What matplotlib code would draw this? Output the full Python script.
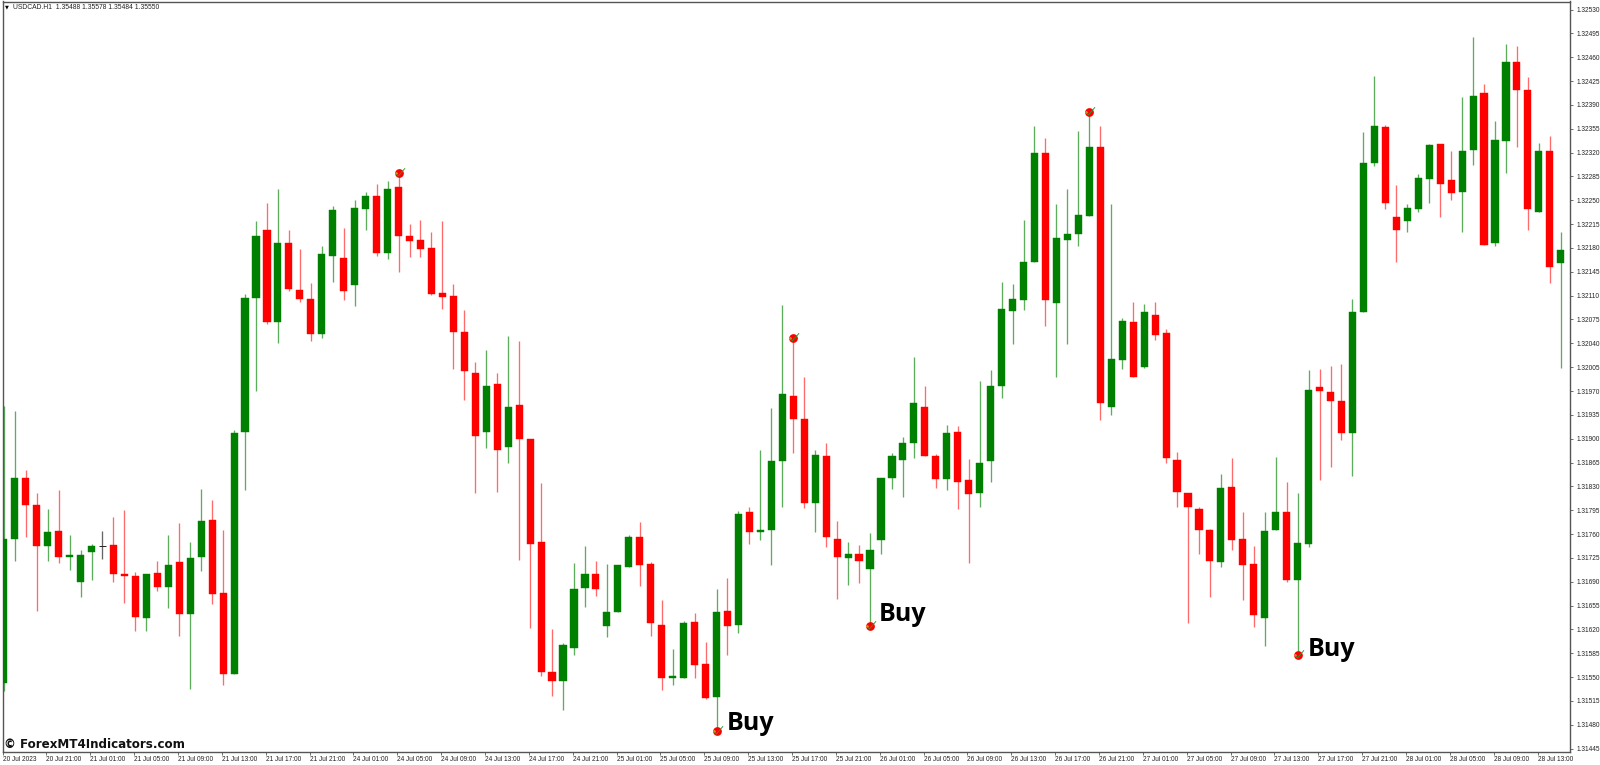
import numpy as np
import matplotlib
matplotlib.use('Agg')
import matplotlib.pyplot as plt
from matplotlib.path import Path


# ------------------------------------------------------- #
# Data, USDCAD H1, prices in points (1.31542 = 131542)

opens = [131542, 131753, 131843, 131802, 131742, 131765, 131727, 131689, 131733, 131744,
         131744, 131702, 131699, 131637, 131703, 131682, 131719, 131643, 131727, 131781,
         131673, 131554, 131910, 132107, 132206, 132072, 132187, 132119, 132105, 132054,
         132168, 132165, 132126, 132237, 132257, 132173, 132269, 132198, 132192, 132180,
         132114, 132109, 132057, 131996, 131910, 131981, 131888, 131950, 131899, 131749,
         131557, 131544, 131593, 131681, 131701, 131625, 131646, 131712, 131756, 131716,
         131627, 131549, 131549, 131631, 131569, 131521, 131647, 131626, 131792, 131763,
         131766, 131867, 131963, 131929, 131806, 131875, 131753, 131725, 131731, 131708,
         131751, 131843, 131868, 131893, 131947, 131874, 131841, 131910, 131839, 131820,
         131867, 131977, 132088, 132104, 132159, 132319, 132099, 132192, 132200, 132227,
         132328, 131947, 132016, 132072, 132005, 132082, 132055, 131869, 131821, 131797,
         131766, 131719, 131829, 131753, 131716, 131637, 131766, 131793, 131693, 131745,
         131976, 131969, 131956, 131909, 132086, 132304, 132357, 132225, 132220, 132237,
         132281, 132333, 132280, 132262, 132324, 132408, 132188, 132337, 132453, 132412,
         132233, 132322, 132158]
highs = [131948, 131941, 131854, 131820, 131797, 131825, 131759, 131736, 131746, 131764,
         131785, 131796, 131705, 131702, 131720, 131759, 131776, 131748, 131826, 131810,
         131766, 131913, 132112, 132220, 132246, 132266, 132207, 132178, 132128, 132183,
         132242, 132210, 132250, 132262, 132274, 132278, 132290, 132215, 132221, 132204,
         132220, 132127, 132089, 132012, 132030, 131996, 132051, 132043, 131899, 131835,
         131620, 131600, 131717, 131743, 131721, 131716, 131714, 131758, 131777, 131719,
         131663, 131591, 131632, 131644, 131602, 131680, 131695, 131794, 131799, 131883,
         131945, 132096, 132048, 131990, 131884, 131893, 131779, 131749, 131744, 131762,
         131843, 131879, 131903, 132020, 131977, 131878, 131920, 131919, 131870, 131985,
         132001, 132130, 132127, 132221, 132359, 132341, 132244, 132267, 132351, 132379,
         132359, 132244, 132077, 132101, 132098, 132101, 132061, 131880, 131821, 131799,
         131767, 131848, 131871, 131793, 131743, 131793, 131873, 131837, 131820, 132001,
         132002, 132007, 132009, 132105, 132350, 132433, 132360, 132272, 132244, 132289,
         132332, 132333, 132323, 132402, 132489, 132421, 132366, 132479, 132476, 132431,
         132334, 132345, 132204]
lows = [131530, 131720, 131756, 131647, 131720, 131717, 131707, 131667, 131693, 131724,
        131690, 131659, 131618, 131618, 131677, 131651, 131611, 131532, 131706, 131658,
        131538, 131554, 131825, 131970, 132068, 132041, 132117, 132101, 132044, 132048,
        132130, 132104, 132095, 132206, 132168, 132164, 132145, 132166, 132167, 132111,
        132090, 132002, 131957, 131821, 131886, 131822, 131865, 131722, 131622, 131551,
        131523, 131501, 131582, 131653, 131669, 131609, 131646, 131711, 131684, 131611,
        131531, 131538, 131548, 131548, 131518, 131471, 131582, 131615, 131745, 131751,
        131715, 131800, 131879, 131798, 131763, 131741, 131664, 131685, 131688, 131625,
        131731, 131826, 131815, 131872, 131874, 131828, 131824, 131797, 131718, 131800,
        131837, 131960, 132039, 132089, 132159, 132066, 131991, 132039, 132183, 132227,
        131927, 131935, 132002, 131991, 132004, 132045, 131864, 131800, 131630, 131730,
        131667, 131711, 131736, 131663, 131623, 131595, 131766, 131689, 131582, 131741,
        131840, 131858, 131898, 131845, 132086, 132300, 132237, 132160, 132204, 132233,
        132246, 132225, 132251, 132204, 132302, 132184, 132183, 132290, 132328, 132207,
        132233, 132129, 132004]
closes = [131753, 131843, 131803, 131743, 131763, 131727, 131729, 131729, 131743, 131743,
          131701, 131698, 131638, 131702, 131682, 131714, 131643, 131725, 131779, 131672,
          131554, 131908, 132107, 132197, 132072, 132187, 132120, 132105, 132053, 132171,
          132235, 132117, 132239, 132257, 132173, 132267, 132198, 132190, 132178, 132112,
          132108, 132056, 132000, 131904, 131977, 131884, 131947, 131899, 131746, 131557,
          131545, 131597, 131680, 131701, 131679, 131646, 131714, 131755, 131715, 131629,
          131548, 131552, 131630, 131568, 131520, 131646, 131625, 131790, 131763, 131766,
          131867, 131965, 131929, 131805, 131876, 131755, 131727, 131730, 131721, 131736,
          131842, 131875, 131894, 131953, 131874, 131841, 131909, 131837, 131819, 131864,
          131977, 132090, 132105, 132160, 132319, 132103, 132195, 132200, 132229, 132328,
          131953, 132017, 132073, 131991, 132086, 132052, 131871, 131822, 131799, 131766,
          131720, 131827, 131751, 131714, 131641, 131765, 131793, 131693, 131747, 131971,
          131970, 131956, 131909, 132086, 132304, 132359, 132246, 132206, 132239, 132282,
          132331, 132274, 132261, 132323, 132403, 132184, 132338, 132453, 132412, 132237,
          132323, 132152, 132177]

# candles carrying an arrow dot
signal_candles = [36, 65, 72, 79, 99, 118]

# Buy labels
buy_x = [65.96, 79.84, 118.93]
buy_y = [131472, 131632, 131581]

# axis labels
time_tick_pos = [0] + list(range(4, 141, 4))
time_tick_labels = ['20 Jul 2023', '20 Jul 21:00',
                    '21 Jul 01:00', '21 Jul 05:00', '21 Jul 09:00', '21 Jul 13:00', '21 Jul 17:00', '21 Jul 21:00',
                    '24 Jul 01:00', '24 Jul 05:00', '24 Jul 09:00', '24 Jul 13:00', '24 Jul 17:00', '24 Jul 21:00',
                    '25 Jul 01:00', '25 Jul 05:00', '25 Jul 09:00', '25 Jul 13:00', '25 Jul 17:00', '25 Jul 21:00',
                    '26 Jul 01:00', '26 Jul 05:00', '26 Jul 09:00', '26 Jul 13:00', '26 Jul 17:00', '26 Jul 21:00',
                    '27 Jul 01:00', '27 Jul 05:00', '27 Jul 09:00', '27 Jul 13:00', '27 Jul 17:00', '27 Jul 21:00',
                    '28 Jul 01:00', '28 Jul 05:00', '28 Jul 09:00', '28 Jul 13:00']
price_ticks = list(range(131445, 132531, 35))


# ------------------------------------------------------- #
# Figure

small_font = 'Liberation Sans'
fig = plt.figure(figsize=(16, 7.65), dpi=100)
ax = fig.add_axes([2.5 / 1600, 1 - 751.7 / 765, (1570 - 2.5) / 1600, (751.7 - 1.5) / 765])

for i in range(len(opens)):
    if closes[i] > opens[i]:
        body = '#008000'
        wick = '#5cae5c'
    else:
        body = '#ff0000'
        wick = '#ff6a6a'
    if i == 9:
        body = '#222222'
        wick = '#666666'
    ax.vlines(i, lows[i], highs[i], color=wick, lw=0.95, zorder=2)
    low_body = min(opens[i], closes[i])
    height = abs(closes[i] - opens[i])
    if i == 9:
        ax.hlines(closes[i], i - 0.33, i + 0.33, color=body, lw=0.7, zorder=3)
    else:
        ax.bar(i, height, bottom=low_body, width=0.65, color=body,
               edgecolor=body, lw=0.3, zorder=3)
    # End if
# End for

# dots with the green arrow on top
check_mark = Path([(-0.55, -0.05), (-0.2, -0.45), (1.0, 0.95)],
                  [Path.MOVETO, Path.LINETO, Path.LINETO])
for i in signal_candles:
    y = lows[i] if i in [65, 79, 118] else highs[i]
    ax.plot(i, y, marker='o', ms=6.3, mfc='#ff0000', mec='none', zorder=4)
    ax.plot(i - 0.27, y, marker='o', ms=1.8, mfc='#e8a020', mec='none', zorder=4)
    ax.plot(i, y, marker=check_mark, ms=8, mfc='none', mec='#2a9a2a', mew=0.65, zorder=5)
# End for

for k in range(len(buy_x)):
    ax.text(buy_x[k], buy_y[k], 'Buy', family='Open Sans', weight='bold', fontsize=18,
            color='black', ha='left', va='baseline', zorder=6)
# End for

ax.set_xlim(-0.055, 142.84)
ax.set_ylim(131440.5, 132541.8)

ax.yaxis.tick_right()
ax.set_yticks(price_ticks)
ax.set_yticklabels([f'{p / 100000:.5f}' for p in price_ticks],
                   fontsize=4.7, family=small_font, color='#222222')
ax.set_xticks([p - 0.12 for p in time_tick_pos])
ax.set_xticklabels(time_tick_labels, fontsize=4.7, family=small_font, color='#222222', ha='left')
ax.tick_params(axis='y', length=2.2, width=0.6, pad=2.6, color='#555555')
ax.tick_params(axis='x', length=2.2, width=0.6, pad=0.6, color='#555555')

for spine in ax.spines.values():
    spine.set_color('#555555')
    spine.set_linewidth(1.0)
# End for

# chart header and watermark
fig.text(4.5 / 1600, 1 - 7.3 / 765, '\u25bc', fontsize=3.6, color='black', va='center')
fig.text(13 / 1600, 1 - 7.3 / 765, 'USDCAD.H1  1.35488 1.35578 1.35484 1.35550',
         fontsize=4.9, family=small_font, color='#222222', va='center')
fig.text(4 / 1600, 1 - 744 / 765, '\u00a9 ForexMT4Indicators.com', fontsize=8.6,
         family='DejaVu Sans', weight='bold', color='#111111', va='center')

plt.savefig('out.png', dpi=100, facecolor='white')
